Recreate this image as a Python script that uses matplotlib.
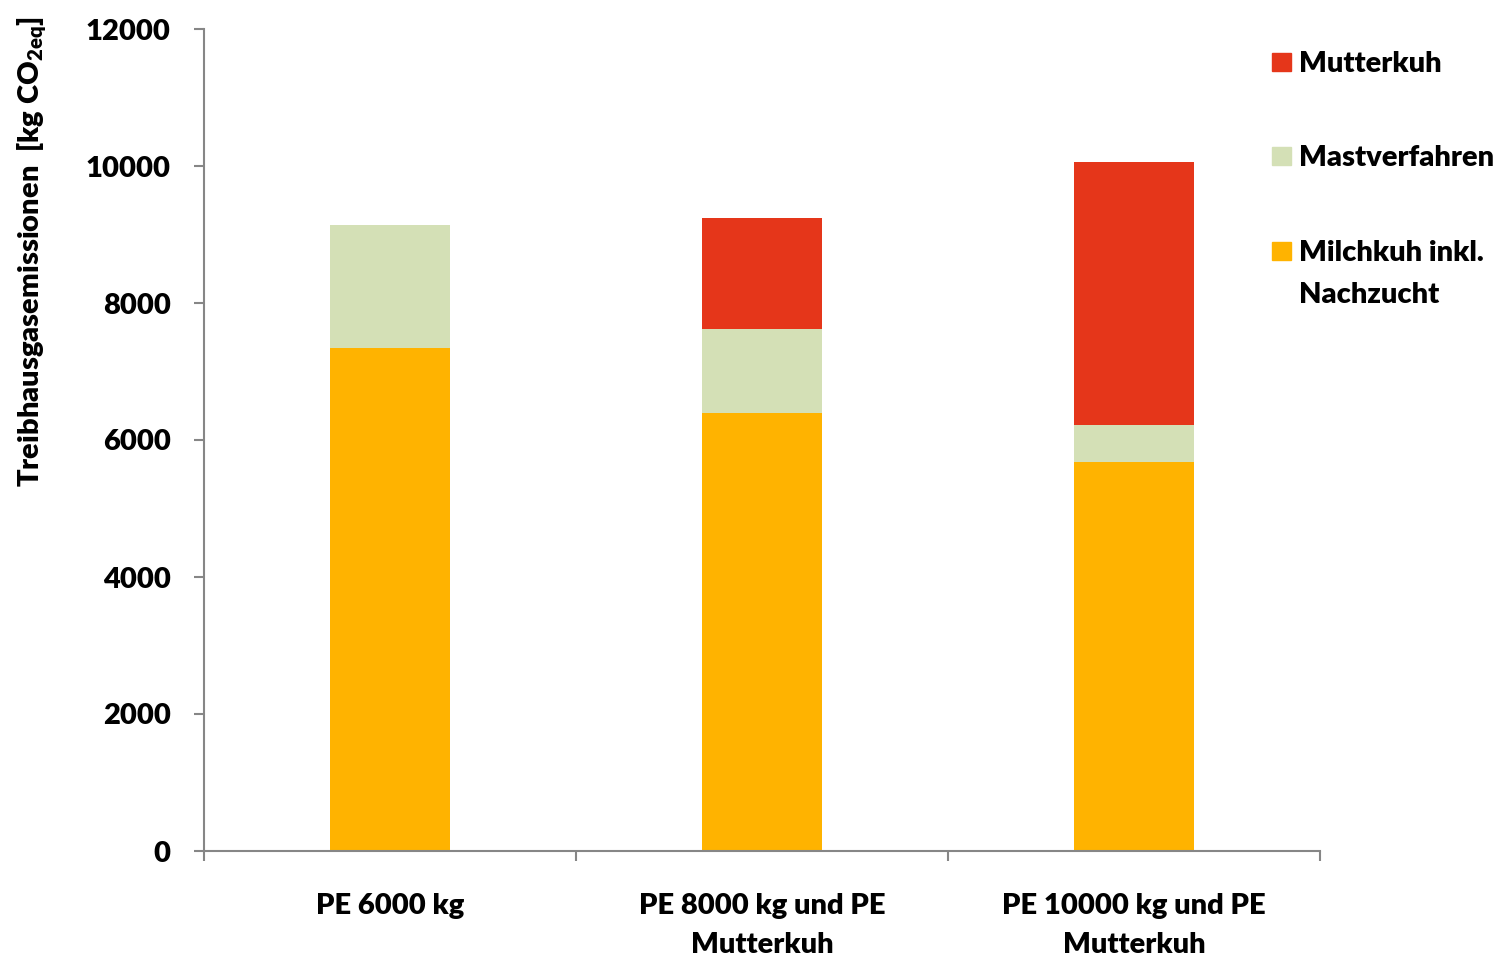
import matplotlib.pyplot as plt
from matplotlib.patches import Rectangle

categories = ["PE 6000 kg", "PE 8000 kg und PE\nMutterkuh", "PE 10000 kg und PE\nMutterkuh"]
milchkuh = [7340, 6400, 5680]
mast = [1800, 1220, 540]
mutterkuh = [0, 1620, 3840]

series_labels = ["Mutterkuh", "Mastverfahren", "Milchkuh inkl.\nNachzucht"]
colors = {"milch": "#FFB300", "mast": "#D4E0B6", "mutter": "#E5361A"}
yticks = [0, 2000, 4000, 6000, 8000, 10000, 12000]

FS = 21
WT = 'heavy'
plt.rcParams['font.family'] = ['Lato', 'DejaVu Sans']
plt.rcParams['font.weight'] = WT
plt.rcParams['mathtext.default'] = 'regular'

fig = plt.figure(figsize=(15.06, 9.58), dpi=100)
ax = fig.add_axes([204 / 1506, 1 - 851 / 958, 1116 / 1506, 822 / 958])

x = range(len(categories))
width = 0.32
bottom2 = [a + b for a, b in zip(milchkuh, mast)]
ax.bar(x, milchkuh, width, color=colors["milch"])
ax.bar(x, mast, width, bottom=milchkuh, color=colors["mast"])
ax.bar(x, mutterkuh, width, bottom=bottom2, color=colors["mutter"])

ax.set_xlim(-0.5, len(categories) - 0.5)
ax.set_ylim(0, 12000)
ax.set_yticks(yticks)
ax.set_yticklabels([str(v) for v in yticks], fontsize=FS, fontweight=WT)
ax.set_xticks(list(x))
ax.set_xticklabels(categories, fontsize=FS, fontweight=WT, linespacing=1.62)
ax.set_xticks([i + 0.5 for i in range(-1, len(categories))], minor=True)

spine_col = "#868686"
for s in ("top", "right"):
    ax.spines[s].set_visible(False)
for s in ("left", "bottom"):
    ax.spines[s].set_color(spine_col)
    ax.spines[s].set_linewidth(1.5)
ax.tick_params(axis='y', length=7, width=1.5, color=spine_col, pad=17)
ax.tick_params(axis='x', which='major', length=0, pad=30)
ax.tick_params(axis='x', which='minor', length=7, width=1.5, color=spine_col)

fig.text(32 / 1506, 1 - 252 / 958, "Treibhausgasemissionen  [kg CO$_{2eq}$]",
         rotation=90, ha='center', va='center', fontsize=FS, fontweight=WT)

# legend drawn by hand, to the right of the plot
leg_colors = [colors["mutter"], colors["mast"], colors["milch"]]
leg_y = [62, 156, 251]
for lab, col, yy in zip(series_labels, leg_colors, leg_y):
    fig.patches.append(Rectangle((1272 / 1506, 1 - (yy + 9) / 958), 19 / 1506, 18 / 958,
                                 transform=fig.transFigure, color=col))
    fig.text(1299 / 1506, 1 - (yy - 11) / 958, lab, ha='left', va='top',
             fontsize=FS, fontweight=WT, linespacing=1.75)

fig.savefig("out.png", dpi=100)
